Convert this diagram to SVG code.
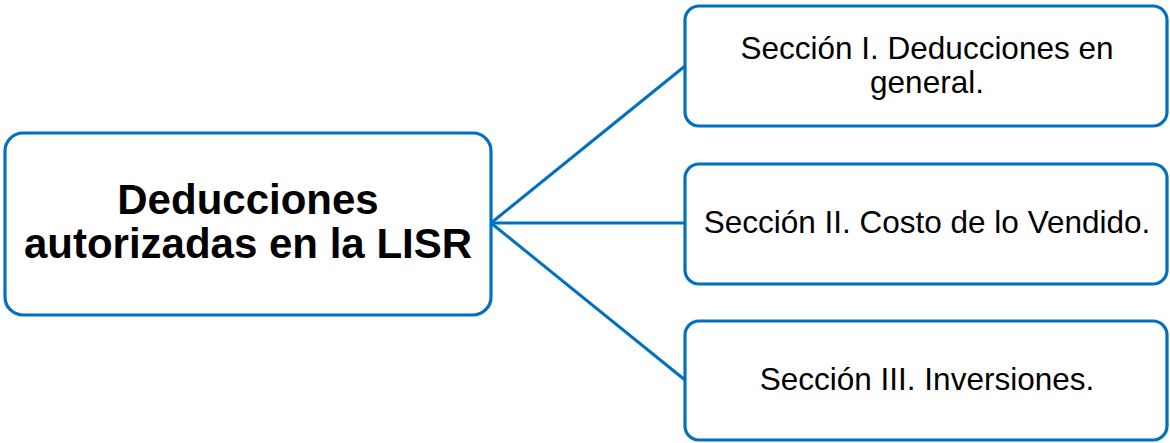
<svg xmlns="http://www.w3.org/2000/svg" width="1170" height="443" viewBox="0 0 1170 443">
<style>
.box{fill:#fff;stroke:#0070C0;stroke-width:3.2}
.con{stroke:#0070C0;stroke-width:3;fill:none}
.main{font-family:"Liberation Sans",Arial,sans-serif;font-weight:bold;font-size:42px;fill:#000;text-anchor:middle}
.sub{font-family:"Liberation Sans",Arial,sans-serif;font-size:31.5px;fill:#000;text-anchor:middle}
</style>
<rect width="1170" height="443" fill="#fff"/>
<g id="connectors">
<line class="con" x1="491" y1="223" x2="685" y2="66"/>
<line class="con" x1="491" y1="223" x2="685" y2="223"/>
<line class="con" x1="491" y1="223" x2="685" y2="380"/>
</g>
<g id="node-root">
<rect class="box" x="5" y="133" width="486" height="182" rx="18"/>
<text class="main" x="248" y="214">Deducciones</text>
<text class="main" x="248" y="258">autorizadas en la LISR</text>
</g>
<g id="node-s1">
<rect class="box" x="685" y="6" width="482" height="120" rx="14"/>
<text class="sub" x="927" y="59">Sección I. Deducciones en</text>
<text class="sub" x="927" y="93">general.</text>
</g>
<g id="node-s2">
<rect class="box" x="685" y="164" width="482" height="120" rx="14"/>
<text class="sub" x="927" y="233">Sección II. Costo de lo Vendido.</text>
</g>
<g id="node-s3">
<rect class="box" x="685" y="321" width="482" height="119" rx="14"/>
<text class="sub" x="927" y="390">Sección III. Inversiones.</text>
</g>
</svg>
